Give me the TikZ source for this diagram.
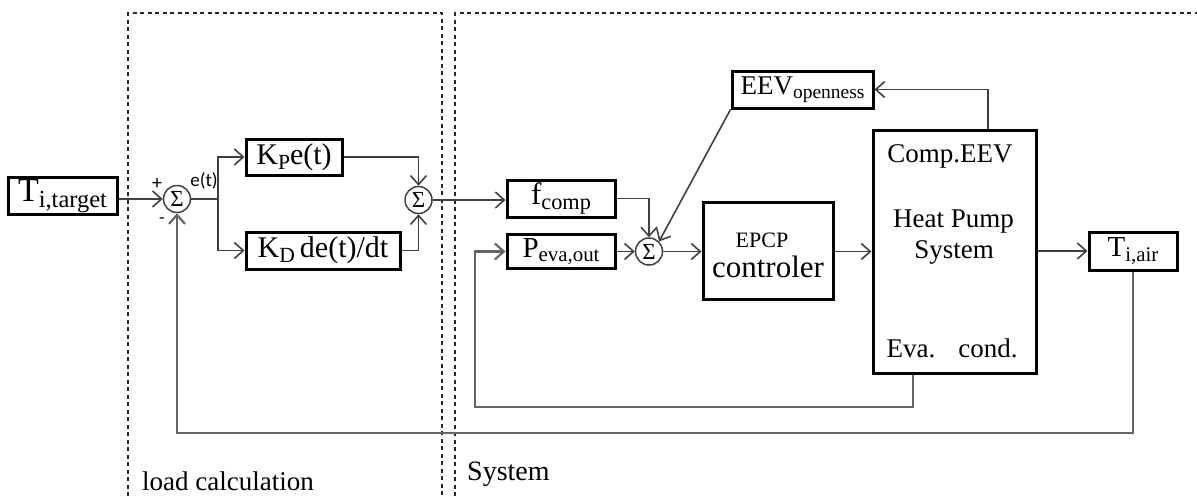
\documentclass[tikz,border=0pt]{standalone}
\usepackage{fontspec}
\usepackage{graphicx}
\setmainfont{Liberation Serif}
\newfontfamily\carl{Carlito}
\usetikzlibrary{arrows.meta}
\newcommand\fs[1]{\fontsize{#1}{#1}\selectfont}
\newcommand\sbs[1]{\raisebox{-0.35ex}{\scalebox{0.72}{#1}}}
\begin{document}
\begin{tikzpicture}[x=1pt,y=-1pt,
  box/.style={draw=black,line width=3pt,inner sep=0pt,align=center},
  sumc/.style={circle,draw=black!75,line width=1.5pt,minimum size=27pt,inner sep=0pt,font=\fs{23}},
  tip/.style={-{Straight Barb[length=9pt,width=16pt]}},
  con/.style={draw=black!75,line width=1.6pt,tip},
  fb/.style={draw=black!60,line width=2.2pt,tip},
  dsh/.style={draw=black!85,line width=1.3pt,dash pattern=on 4pt off 3.5pt},
  txt/.style={inner sep=0pt}
]
\useasboundingbox (0,0) rectangle (1197,496);

% dashed regions
\draw[dsh] (128,496) -- (128,13) -- (442,13) -- (442,496);
\draw[dsh] (455,496) -- (455,13) -- (1197,13);

% blocks
\node[box,minimum width=109pt,minimum height=37pt,font=\fs{34}] (tt) at (62.5,196) {T\sbs{i,target}};
\node[sumc] (s1) at (177,199) {Σ};
\node[box,minimum width=96pt,minimum height=36pt,font=\fs{30}] (kp) at (294,157) {K\sbs{P}e(t)};
\node[box,minimum width=154pt,minimum height=37pt,font=\fs{30}] (kd) at (323,250.5) {K\sbs{D}\,de(t)/dt};
\node[sumc] (s2) at (418.5,200) {Σ};
\node[box,minimum width=108pt,minimum height=37pt,font=\fs{31}] (fc) at (561,198.5) {f\sbs{comp}};
\node[box,minimum width=108pt,minimum height=34pt,font=\fs{29}] (pe) at (561,251.5) {P\sbs{eva,out}};
\node[sumc] (s3) at (649,251.5) {Σ};
\node[box,minimum width=141pt,minimum height=37pt,font=\fs{27}] (eev) at (802.5,89.5) {EEV\sbs{openness}};
\node[box,minimum width=130pt,minimum height=97pt] (epcp) at (768,250.5) {};
\node[txt,font=\fs{22},anchor=base] (epcpt) at (762,247) {EPCP};
\node[txt,font=\fs{31},anchor=base] (ctl) at (768,277) {controler};
\node[box,minimum width=163pt,minimum height=243pt] (hp) at (954.5,251.5) {};
\node[txt,font=\fs{27},anchor=base] (hp1) at (950,162) {Comp.EEV};
\node[txt,font=\fs{27},anchor=base] (hp2) at (953.5,227) {Heat Pump};
\node[txt,font=\fs{27},anchor=base] (hp3) at (954,258) {System};
\node[txt,font=\fs{27},anchor=base] (hp4) at (911,357) {Eva.};
\node[txt,font=\fs{27},anchor=base] (hp5) at (988,357) {cond.};
\node[box,minimum width=88pt,minimum height=38pt,font=\fs{29}] (ta) at (1133,251) {T\sbs{i,air}};

% labels
\node[txt,font=\carl\fs{20}] (plus) at (157,184) {+};
\node[txt,font=\carl\fs{18}] (minus) at (162,221) {-};
\node[txt,font=\carl\fs{19}] (et) at (204,181) {e(t)};
\node[txt,font=\fs{27},anchor=base west] (lc) at (142,490) {load calculation};
\node[txt,font=\fs{28},anchor=base west] (sy) at (467,480) {System};

% connectors
\coordinate (br) at (218,199);
\coordinate (e1) at (475,407);
\draw[con] (tt.east |- s1.west) -- (s1.west);
\draw[con] (s1.east) -- (br) |- (kp.west);
\draw[con] (br) |- (kd.west);
\draw[con] (kp.east) -| (s2.north);
\draw[con] (kd.east) -| (s2.south);
\draw[con] (s2.east) -- (s2.east -| fc.west);
\draw[con] (fc.east) -| (s3.north);
\draw[con] (pe.east) -- (s3.west);
\draw[con] (eev.south west) -- (s3.north east);
\draw[con] (s3.east) -- (s3.east -| epcp.west);
\draw[con] (epcp.east |- hp.west) -- (hp.west);
\draw[con] ([xshift=33.5pt]hp.north) |- (eev.east);
\draw[con] (hp.east |- ta.west) -- (ta.west);
\draw[fb] (ta.south) -- (ta.south |- 0,433) -| (s1.south);
\draw[fb] ([xshift=-41.5pt]hp.south) |- (e1) |- (pe.west);
\end{tikzpicture}
\end{document}
